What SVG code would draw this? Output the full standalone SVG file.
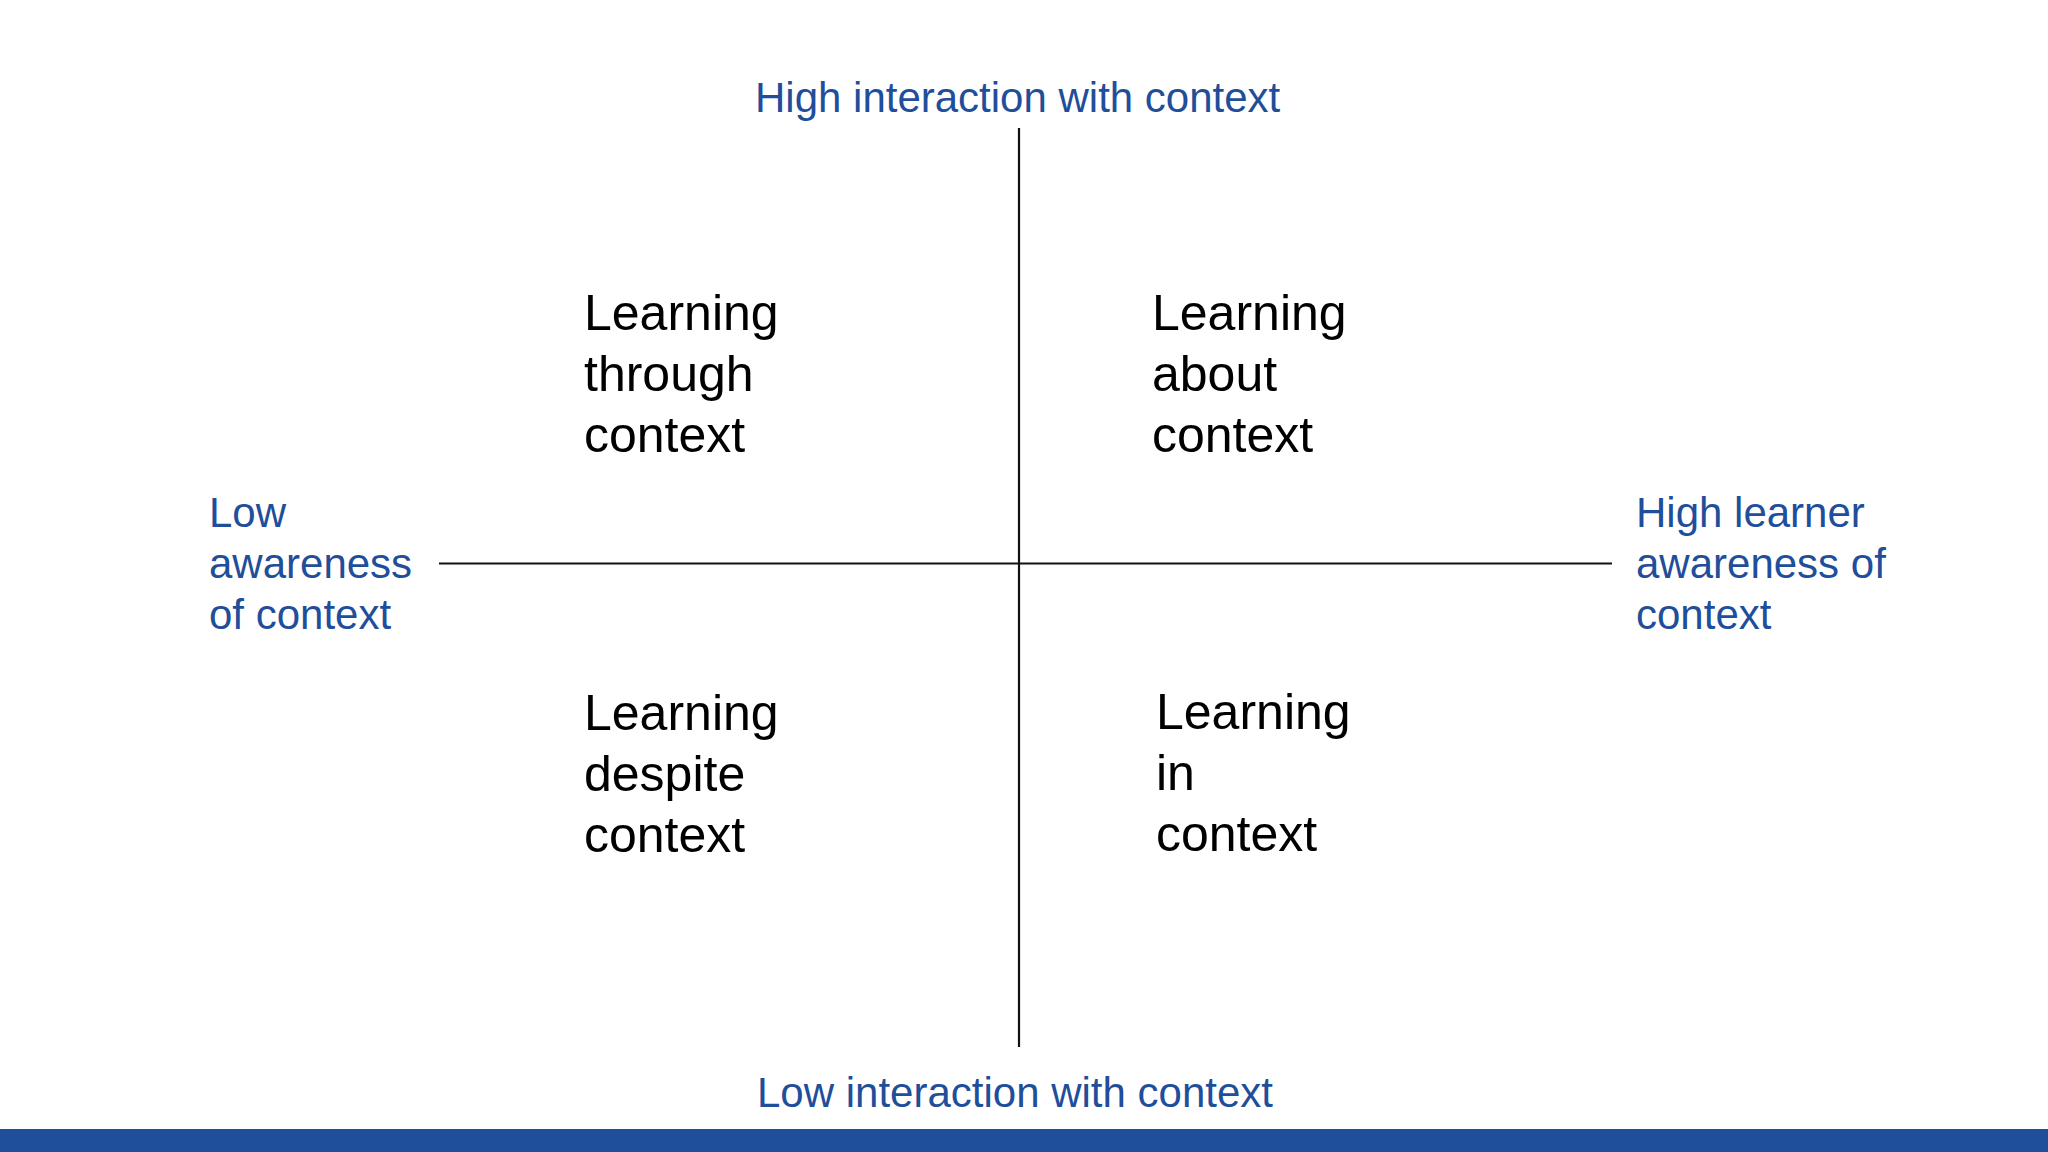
<svg xmlns="http://www.w3.org/2000/svg" width="2048" height="1152" viewBox="0 0 2048 1152">
  <style>
    .axis { font-family: "Liberation Sans", Arial, sans-serif; font-size: 42px; fill: #1F4E9A; }
    .quad { font-family: "Liberation Sans", Arial, sans-serif; font-size: 50px; fill: #000000; }
    .line { stroke: #111111; stroke-width: 2.2; fill: none; }
  </style>
  <rect x="0" y="0" width="2048" height="1152" fill="#ffffff"/>
  <rect x="0" y="1129" width="2048" height="23" fill="#1F4E9A"/>

  <g id="connectors">
    <line class="line" x1="1019" y1="128" x2="1019" y2="1047"/>
    <line class="line" x1="439" y1="563.5" x2="1612" y2="563.5"/>
  </g>

  <g id="label-top">
    <text class="axis" x="755" y="112">High interaction with context</text>
  </g>
  <g id="label-bottom">
    <text class="axis" x="757" y="1107">Low interaction with context</text>
  </g>
  <g id="label-left">
    <text class="axis" x="209" y="527">Low</text>
    <text class="axis" x="209" y="578">awareness</text>
    <text class="axis" x="209" y="629">of context</text>
  </g>
  <g id="label-right">
    <text class="axis" x="1636" y="527">High learner</text>
    <text class="axis" x="1636" y="578">awareness of</text>
    <text class="axis" x="1636" y="629">context</text>
  </g>

  <g id="quad-through">
    <text class="quad" x="584" y="330">Learning</text>
    <text class="quad" x="584" y="391">through</text>
    <text class="quad" x="584" y="452">context</text>
  </g>
  <g id="quad-about">
    <text class="quad" x="1152" y="330">Learning</text>
    <text class="quad" x="1152" y="391">about</text>
    <text class="quad" x="1152" y="452">context</text>
  </g>
  <g id="quad-despite">
    <text class="quad" x="584" y="730">Learning</text>
    <text class="quad" x="584" y="791">despite</text>
    <text class="quad" x="584" y="852">context</text>
  </g>
  <g id="quad-in">
    <text class="quad" x="1156" y="729">Learning</text>
    <text class="quad" x="1156" y="790">in</text>
    <text class="quad" x="1156" y="851">context</text>
  </g>
</svg>
